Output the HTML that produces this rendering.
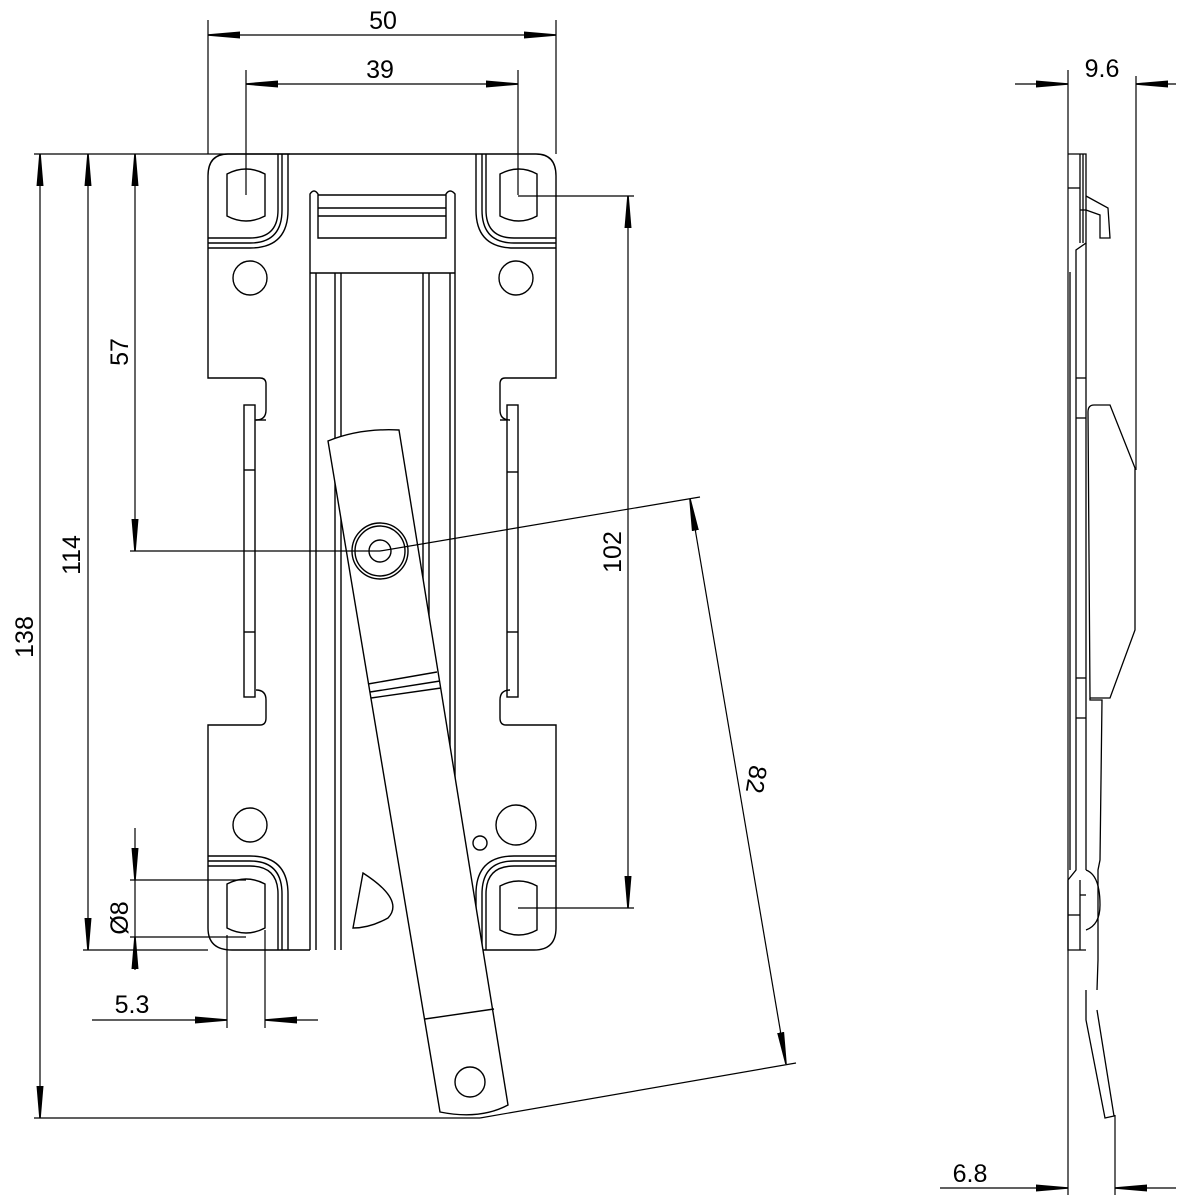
<!DOCTYPE html>
<html><head><meta charset="utf-8"><style>
html,body{margin:0;padding:0;background:#fff;}
svg{display:block;}
text{font-family:"Liberation Sans",sans-serif;font-size:25px;fill:#000;}
</style></head><body>
<svg width="1200" height="1200" viewBox="0 0 1200 1200" xmlns="http://www.w3.org/2000/svg">
<defs>
<marker id="a" markerUnits="userSpaceOnUse" markerWidth="34" markerHeight="10" refX="32" refY="5" orient="auto-start-reverse">
<path d="M0,1.5 L32,4.2 L32,5.8 L0,8.5 z" fill="#000"/>
</marker>
</defs>
<g fill="none" stroke="#000" stroke-width="1.4">
<!-- plate outline -->
<path d="M228,154 L536,154 Q556,154 556,176 L556,378 L505,378 Q500,378 500,384 L500,410 Q500,420 510,420 M510,690 Q500,690 500,700 L500,718 Q500,725 506,725 L556,725 L556,928 Q556,950 534,950 L455,950 M310,950 L232,950 Q208,950 208,928 L208,725 L260,725 Q266,725 266,718 L266,700 Q266,690 256,690 M256,420 Q266,420 266,410 L266,384 Q266,378 260,378 L208,378 L208,176 Q208,154 228,154"/>
<!-- side bars -->
<rect x="244" y="405" width="11" height="292"/>
<rect x="507" y="405" width="11" height="292"/>
<line x1="244" y1="470" x2="255" y2="470"/><line x1="244" y1="632" x2="255" y2="632"/>
<line x1="507" y1="472" x2="518" y2="472"/><line x1="507" y1="632" x2="518" y2="632"/>
<line x1="255" y1="420" x2="266" y2="420"/><line x1="507" y1="420" x2="500" y2="420"/>
<!-- channel -->
<path d="M310,950 L310,194 Q314,188 318,194 L318,238 L446,238 L446,194 Q450,188 455,194 L455,950"/>
<line x1="318" y1="195" x2="446" y2="195"/>
<line x1="318" y1="208" x2="446" y2="208"/>
<line x1="318" y1="216" x2="446" y2="216"/>
<line x1="310" y1="273" x2="455" y2="273"/>
<line x1="316" y1="273" x2="316" y2="950"/>
<line x1="335" y1="273" x2="335" y2="950"/>
<line x1="341" y1="273" x2="341" y2="950"/>
<line x1="423" y1="273" x2="423" y2="950"/>
<line x1="429" y1="273" x2="429" y2="950"/>
<line x1="450" y1="273" x2="450" y2="950"/>
<!-- corner double lines -->
<path d="M278,154 L278,210 Q278,238 250,238 L208,238"/>
<path d="M282,154 L282,210 Q282,243 250,243 L208,243"/>
<path d="M288,154 L288,210 Q288,248 250,248 L208,248"/>
<path d="M486,154 L486,210 Q486,238 514,238 L556,238"/>
<path d="M482,154 L482,210 Q482,243 514,243 L556,243"/>
<path d="M476,154 L476,210 Q476,248 514,248 L556,248"/>
<path d="M278,950 L278,894 Q278,866 250,866 L208,866"/>
<path d="M282,950 L282,894 Q282,861 250,861 L208,861"/>
<path d="M288,950 L288,894 Q288,856 250,856 L208,856"/>
<path d="M486,950 L486,894 Q486,866 514,866 L556,866"/>
<path d="M482,950 L482,894 Q482,861 514,861 L556,861"/>
<path d="M476,950 L476,894 Q476,856 514,856 L556,856"/>
<!-- slots -->
<path d="M227,174 Q246,164 265,174 L265,216 Q246,226 227,216 z"/>
<path d="M500,174 Q519,164 537,174 L537,216 Q519,226 500,216 z"/>
<path d="M227,884 Q246,874 265,884 L265,928 Q246,938 227,928 z"/>
<path d="M500,886 Q519,876 537,886 L537,930 Q519,940 500,930 z"/>
<circle cx="250" cy="278" r="17"/><circle cx="516" cy="278" r="17"/>
<circle cx="250" cy="825" r="17"/><circle cx="516" cy="825" r="20"/>
<circle cx="480" cy="843" r="7"/>
<path d="M363,873 L353,928 Q370,928 388,918 Q405,900 363,873 z" fill="#fff"/>
<!-- lever -->
<path d="M328,441 Q360,428 399,430 L508,1105 Q480,1120 440,1112 Z" fill="#fff"/>
<line x1="368" y1="684" x2="437" y2="672"/>
<line x1="370" y1="692" x2="440" y2="681"/>
<line x1="371" y1="698" x2="441" y2="688"/>
<line x1="425" y1="1019" x2="494" y2="1009"/>
<circle cx="380" cy="551" r="28"/><circle cx="380" cy="551" r="25"/><circle cx="380" cy="551" r="11"/>
<circle cx="470" cy="1082" r="15"/>
</g>
<!-- dimension lines -->
<g fill="none" stroke="#000" stroke-width="1.2">
<line x1="208" y1="20" x2="208" y2="154"/><line x1="556" y1="20" x2="556" y2="154"/>
<line x1="208" y1="35" x2="556" y2="35" marker-start="url(#a)" marker-end="url(#a)"/>
<line x1="246" y1="70" x2="246" y2="195"/><line x1="518" y1="70" x2="518" y2="195"/>
<line x1="246" y1="84" x2="518" y2="84" marker-start="url(#a)" marker-end="url(#a)"/>
<line x1="34" y1="154" x2="290" y2="154"/>
<line x1="34" y1="1118" x2="480" y2="1118"/>
<line x1="40" y1="154" x2="40" y2="1118" marker-start="url(#a)" marker-end="url(#a)"/>
<line x1="83" y1="950" x2="208" y2="950"/>
<line x1="88" y1="154" x2="88" y2="950" marker-start="url(#a)" marker-end="url(#a)"/>
<line x1="130" y1="551" x2="380" y2="551"/>
<line x1="135" y1="154" x2="135" y2="551" marker-start="url(#a)" marker-end="url(#a)"/>
<line x1="518" y1="196" x2="634" y2="196"/><line x1="518" y1="908" x2="634" y2="908"/>
<line x1="628" y1="196" x2="628" y2="908" marker-start="url(#a)" marker-end="url(#a)"/>
<line x1="380" y1="551" x2="700" y2="497"/>
<line x1="480" y1="1118" x2="796" y2="1063"/>
<line x1="690" y1="499" x2="786" y2="1064" marker-start="url(#a)" marker-end="url(#a)"/>
<line x1="130" y1="880" x2="246" y2="880"/><line x1="130" y1="937" x2="246" y2="937"/>
<line x1="135" y1="828" x2="135" y2="880" marker-end="url(#a)"/>
<line x1="135" y1="970" x2="135" y2="937" marker-end="url(#a)"/>
<line x1="135" y1="880" x2="135" y2="937"/>
<line x1="227" y1="935" x2="227" y2="1028"/><line x1="265" y1="930" x2="265" y2="1028"/>
<line x1="92" y1="1020" x2="227" y2="1020" marker-end="url(#a)"/>
<line x1="318" y1="1020" x2="265" y2="1020" marker-end="url(#a)"/>
<!-- side view dims -->
<line x1="1068" y1="70" x2="1068" y2="1195"/>
<line x1="1136" y1="76" x2="1136" y2="470"/>
<line x1="1015" y1="84" x2="1068" y2="84" marker-end="url(#a)"/>
<line x1="1176" y1="84" x2="1136" y2="84" marker-end="url(#a)"/>
<line x1="1115" y1="1115" x2="1115" y2="1195"/>
<line x1="940" y1="1188" x2="1068" y2="1188" marker-end="url(#a)"/>
<line x1="1176" y1="1188" x2="1115" y2="1188" marker-end="url(#a)"/>
</g>
<!-- side view -->
<g fill="none" stroke="#000" stroke-width="1.3">
<path d="M1068,154 L1086,154 L1086,243 L1076,250 L1076,870 L1068,880 L1068,950 L1086,950"/>
<line x1="1080" y1="154" x2="1080" y2="243"/>
<line x1="1083" y1="154" x2="1083" y2="243"/>
<line x1="1068" y1="188" x2="1080" y2="188"/>
<line x1="1080" y1="210" x2="1086" y2="210"/>
<path d="M1086,196 L1108,208 L1110,238 L1100,238 L1100,215 L1086,210"/>
<line x1="1070" y1="272" x2="1070" y2="870"/>
<line x1="1086" y1="243" x2="1086" y2="870"/>
<line x1="1076" y1="378" x2="1086" y2="378"/>
<line x1="1076" y1="418" x2="1086" y2="418"/>
<line x1="1076" y1="678" x2="1086" y2="678"/>
<line x1="1076" y1="718" x2="1086" y2="718"/>
<path d="M1088,412 Q1088,405 1094,405 L1110,405 L1135,468 L1135,630 L1110,698 L1090,698 L1088,412" fill="#fff"/>
<path d="M1090,698 L1090,700 L1102,700 L1100,860 L1098,870 L1098,960 L1097,990"/>
<path d="M1086,870 Q1100,875 1100,905 Q1100,925 1086,930"/>
<line x1="1080" y1="880" x2="1080" y2="950"/>
<line x1="1068" y1="915" x2="1080" y2="915"/>
<line x1="1080" y1="895" x2="1086" y2="895"/>
<path d="M1086,990 L1086,1020 L1105,1118 L1114,1116 L1097,1010"/>
</g>
<!-- labels -->
<text x="383" y="29" text-anchor="middle">50</text>
<text x="380" y="78" text-anchor="middle">39</text>
<text transform="translate(33,637) rotate(-90)" text-anchor="middle">138</text>
<text transform="translate(80,555) rotate(-90)" text-anchor="middle">114</text>
<text transform="translate(128,352) rotate(-90)" text-anchor="middle">57</text>
<text transform="translate(621,552) rotate(-90)" text-anchor="middle">102</text>
<text transform="translate(748,778) rotate(99.5)" text-anchor="middle">82</text>
<text transform="translate(128,918) rotate(-90)" text-anchor="middle">Ø8</text>
<text x="132" y="1013" text-anchor="middle">5.3</text>
<text x="1102" y="77" text-anchor="middle">9.6</text>
<text x="970" y="1182" text-anchor="middle">6.8</text>
</svg>
</body></html>
